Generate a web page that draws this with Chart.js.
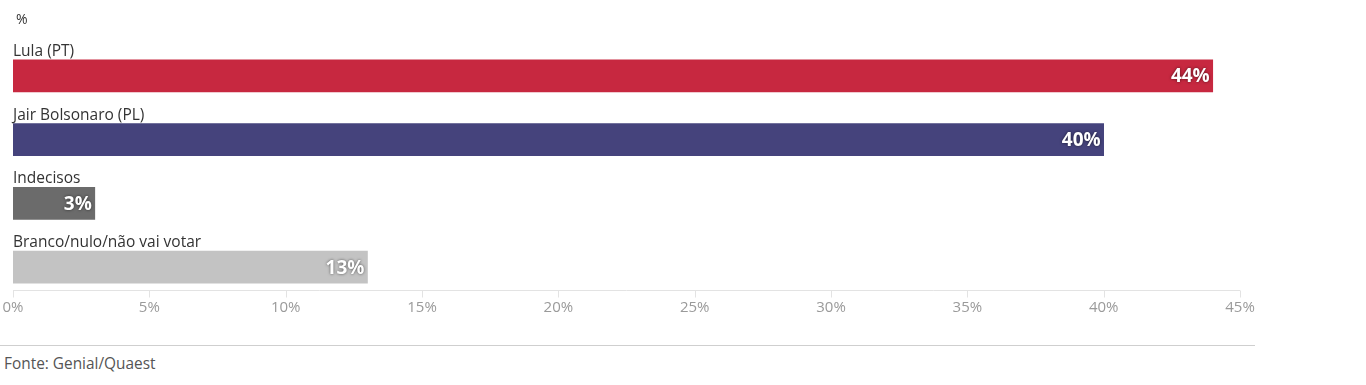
<!DOCTYPE html>
<html>
<head>
<meta charset="utf-8">
<script src="https://cdn.jsdelivr.net/npm/chart.js@4"></script>
<style>
  body { margin: 0; background: #fff; font-family: "Open Sans", sans-serif; }
  #wrap { position: relative; width: 1366px; height: 385px; }
  #unit { position: absolute; left: 16px; top: 9px; font-size: 14px; color: #333; }
  #box { position: absolute; left: 0; top: 0; width: 1366px; height: 330px; }
  #sep { position: absolute; left: 0; top: 345px; width: 1255px; height: 1px; background: #cfcfcf; }
  #src { position: absolute; left: 4px; top: 353px; font-size: 15.4px; color: #555; }
</style>
</head>
<body>
<div id="wrap">
  <div id="box"><canvas id="chart"></canvas></div>
  <div id="unit">%</div>
  <div id="sep"></div>
  <div id="src">Fonte: Genial/Quaest</div>
</div>
<script>
// dados da pesquisa
const categories = ['Lula (PT)', 'Jair Bolsonaro (PL)', 'Indecisos', 'Branco/nulo/não vai votar'];
const values = [44, 40, 3, 13];
const barColors = ['#c72840', '#45437c', '#6b6b6b', '#c3c3c3'];
const tickValues = [0, 5, 10, 15, 20, 25, 30, 35, 40, 45];

// rótulos acima das barras + valores dentro das barras + eixo
const barLabels = {
    id: 'barLabels',
    afterDatasetsDraw(chart) {
        const ctx = chart.ctx;
        const meta = chart.getDatasetMeta(0);
        meta.data.forEach((bar, i) => {
            const top = bar.y - bar.height / 2;
            ctx.save();
            ctx.font = '15.5px "Open Sans"';
            ctx.fillStyle = '#333';
            ctx.textAlign = 'left';
            ctx.textBaseline = 'alphabetic';
            ctx.fillText(categories[i], bar.base, top - 4);

            ctx.font = 'bold 19px "Open Sans"';
            ctx.fillStyle = '#fff';
            ctx.textAlign = 'right';
            ctx.textBaseline = 'middle';
            ctx.shadowColor = 'rgba(0,0,0,0.6)';
            ctx.shadowBlur = 3;
            ctx.shadowOffsetX = 0;
            ctx.shadowOffsetY = 0;
            ctx.fillText(values[i] + '%', bar.x - 3, bar.y + 1);
            ctx.restore();
        });

        // linha do eixo x
        const xs = chart.scales.x;
        const y0 = 290.5;
        ctx.save();
        ctx.strokeStyle = '#e3e3e3';
        ctx.lineWidth = 1;
        ctx.beginPath();
        ctx.moveTo(xs.getPixelForValue(0), y0);
        ctx.lineTo(xs.getPixelForValue(45), y0);
        tickValues.forEach(v => {
            const px = Math.round(xs.getPixelForValue(v)) + 0.5;
            ctx.moveTo(px, y0);
            ctx.lineTo(px, y0 + 7);
        });
        ctx.stroke();
        ctx.restore();
    }
};

new Chart(document.getElementById('chart'), {
    type: 'bar',
    data: {
        labels: categories,
        datasets: [{
            data: values,
            backgroundColor: barColors,
            borderWidth: 0,
            barThickness: 32
        }]
    },
    options: {
        indexAxis: 'y',
        responsive: true,
        maintainAspectRatio: false,
        animation: false,
        layout: {
            padding: { left: 13, right: 126, top: 44, bottom: 13 }
        },
        plugins: {
            legend: { display: false },
            tooltip: { enabled: false }
        },
        scales: {
            x: {
                min: 0,
                max: 45,
                afterBuildTicks(scale) {
                    scale.ticks = tickValues.map(v => ({ value: v }));
                },
                grid: { display: false, drawTicks: false },
                border: { display: false },
                ticks: {
                    padding: 0,
                    color: '#9a9a9a',
                    font: { family: 'Open Sans', size: 15 },
                    callback: v => v + '%'
                }
            },
            y: {
                display: false
            }
        }
    },
    plugins: [barLabels]
});
</script>
</body>
</html>
